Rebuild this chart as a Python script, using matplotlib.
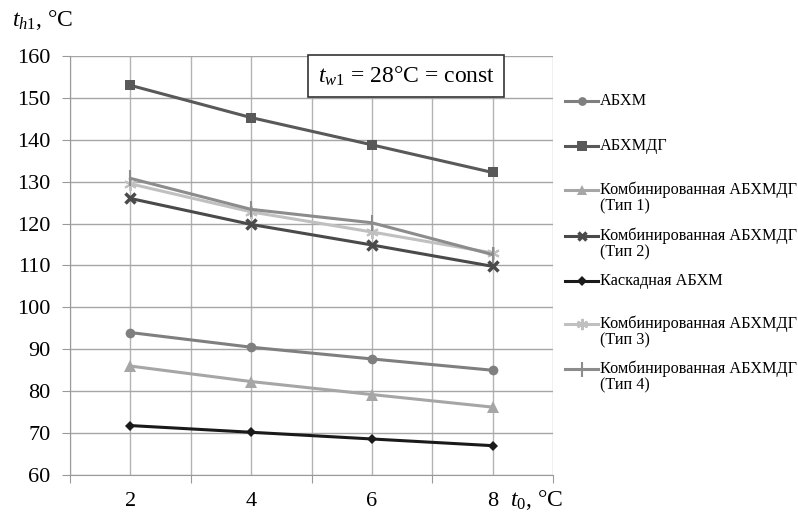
import matplotlib
matplotlib.use("Agg")
import matplotlib.pyplot as plt
from matplotlib.lines import Line2D

plt.rcParams['font.family'] = ['Liberation Serif', 'DejaVu Serif']
plt.rcParams['mathtext.fontset'] = 'custom'
plt.rcParams['mathtext.rm'] = 'Liberation Serif'
plt.rcParams['mathtext.it'] = 'Liberation Serif:italic'

# ---- data ----
t0 = [2, 4, 6, 8]
abhm = [94, 90.5, 87.7, 85]
abhmdg = [153, 145.3, 138.8, 132.2]
komb1 = [86, 82.3, 79.2, 76.2]
komb2 = [126, 119.8, 114.9, 109.8]
kaskad = [71.8, 70.2, 68.6, 67]
komb3 = [129.5, 122.8, 118, 113]
komb4 = [130.8, 123.4, 120.2, 112.6]

labels = ["АБХМ", "АБХМДГ", "Комбинированная АБХМДГ\n(Тип 1)",
          "Комбинированная АБХМДГ\n(Тип 2)", "Каскадная АБХМ",
          "Комбинированная АБХМДГ\n(Тип 3)", "Комбинированная АБХМДГ\n(Тип 4)"]
y_ticks = [60, 70, 80, 90, 100, 110, 120, 130, 140, 150, 160]
x_tick_labels = ["2", "4", "6", "8"]

series = [
    (abhm, dict(color="#7f7f7f", marker="o", ms=7, mew=0)),
    (abhmdg, dict(color="#595959", marker="s", ms=7.5, mew=0)),
    (komb1, dict(color="#a6a6a6", marker="^", ms=8, mew=0)),
    (komb2, dict(color="#4a4a4a", marker="x", ms=7, mew=2.5)),
    (kaskad, dict(color="#1a1a1a", marker="D", ms=5.5, mew=0)),
    (komb3, dict(color="#c0c0c0", marker=(6, 2, 0), ms=9, mew=1.5)),
    (komb4, dict(color="#8c8c8c", marker="|", ms=12, mew=1.5)),
]

fig = plt.figure(figsize=(7.98, 5.12), dpi=100)
ax = fig.add_axes([70/798, 1-475/512, (553-70)/798, (475-56)/512])

for vals, st in series:
    ax.plot(t0, vals, lw=2.2, **st)

ax.set_xlim(1, 9)
ax.set_ylim(60, 160)
ax.set_yticks(y_ticks)
ax.set_xticks([1, 3, 5, 7, 9])
ax.set_xticklabels([])
ax.set_xticks(t0, minor=True)
ax.set_xticklabels(x_tick_labels, minor=True)
ax.tick_params(axis='x', which='minor', length=0, pad=12, labelsize=16)
ax.tick_params(axis='x', which='major', length=6, color="#9a9a9a")
ax.tick_params(axis='y', length=6, pad=8, labelsize=16, color="#9a9a9a")

for x in range(1, 10):
    ax.axvline(x, color="#b3b3b3", lw=1, zorder=0)
for y in y_ticks:
    ax.axhline(y, color="#a6a6a6", lw=1, zorder=0)
for s in ["top", "right"]:
    ax.spines[s].set_visible(False)
for s in ["left", "bottom"]:
    ax.spines[s].set_color("#9a9a9a")

# info box
ax.text(5.1, 155.2, r"$t_{w1}$ = 28°C = const", fontsize=17, va="center", ha="left",
        bbox=dict(boxstyle="square,pad=0.4", fc="white", ec="#333333", lw=1.2))

fig.text(12/798, 1-20/512, r"$t_{h1}$, °C", fontsize=17, va="center", ha="left")
fig.text(510/798, 1-500/512, r"$t_0$, °C", fontsize=17, va="center", ha="left")

# legend (manual, Excel-style)
ys = [101, 146, 190, 236, 281, 324, 369]
for (vals, st), lab, yp in zip(series, labels, ys):
    yf = 1 - yp/512
    st2 = dict(st)
    fig.add_artist(Line2D([565/798, 598/798], [yf, yf], lw=2.2,
                          transform=fig.transFigure, color=st2["color"]))
    fig.add_artist(Line2D([582/798], [yf], lw=0, transform=fig.transFigure,
                          color=st2["color"], marker=st2["marker"], ms=st2["ms"]*0.9, mew=st2["mew"]))
    lines = lab.split("\n")
    for i, ln in enumerate(lines):
        fig.text(600/798, yf - i*16.5/512, ln, fontsize=11.7, va="center", ha="left")

fig.savefig("out.png", dpi=100)
